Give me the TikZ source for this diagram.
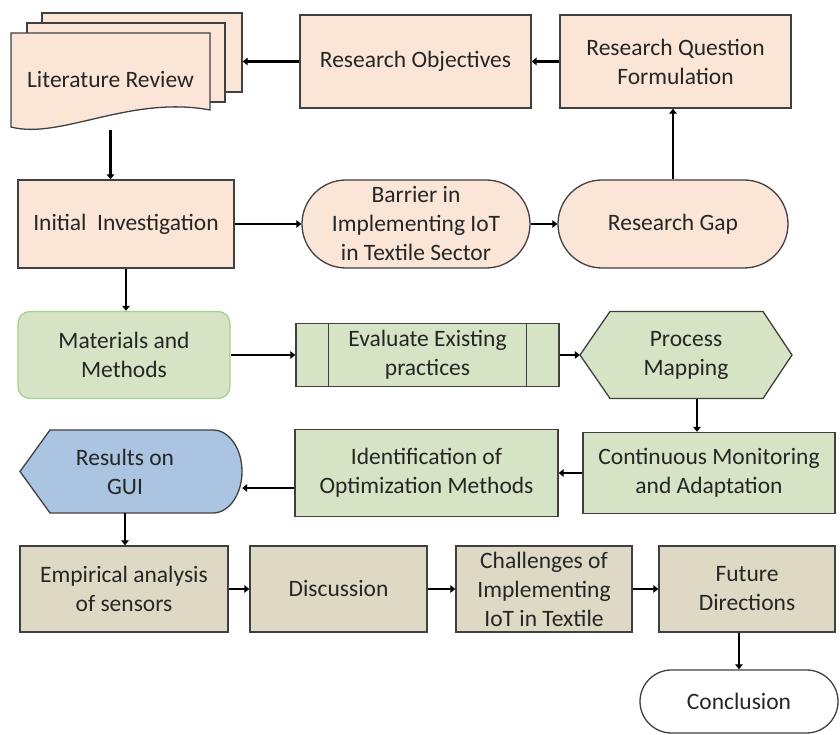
\documentclass[tikz,border=0pt]{standalone}
\usepackage{fontspec}
\setmainfont{Carlito}
\usetikzlibrary{arrows.meta}
\definecolor{peach}{HTML}{FBE5D6}
\definecolor{sage}{HTML}{D6E3C4}
\definecolor{sky}{HTML}{AAC4E1}
\definecolor{tan}{HTML}{DDD9C4}
\definecolor{edge}{HTML}{404040}
\definecolor{leaf}{HTML}{A9D18E}
\definecolor{ink}{HTML}{262626}
\tikzset{
  box/.style={draw=edge, line width=1.3pt, align=center, text=ink,
    font=\fontsize{23.5}{29}\selectfont},
  pbox/.style={box, fill=peach},
  gbox/.style={box, fill=sage},
  tbox/.style={box, fill=tan},
  pill/.style={box, rounded corners=#1},
  label/.style={align=center, text=ink, font=\fontsize{23.5}{29}\selectfont},
  link/.style={line width=2.4pt, -{Triangle[length=5pt,width=7.5pt]}},
}
\begin{document}
\begin{tikzpicture}[x=1pt,y=1pt]
\useasboundingbox (0,0) rectangle (840,735);
\node[pbox, minimum width=200, minimum height=79] (litback) at (142,682.5) {};
\node[pbox, minimum width=198, minimum height=79] (litmid) at (126,672.5) {};
\filldraw[fill=peach, draw=edge, line width=1.3pt] (11,608) -- (11,702) -- (210,702) -- (210,625)
  .. controls (130,640) and (60,595) .. (11,608) -- cycle;
\node[label, minimum width=199, minimum height=100] (lit) at (110.5,655) {Literature Review};
\node[pbox, minimum width=231, minimum height=93] (obj) at (415.5,673.5) {Research Objectives};
\node[pbox, minimum width=231, minimum height=93] (rqf) at (675.5,673.5) {Research Question\\Formulation};

\node[pbox, minimum width=216, minimum height=88] (init) at (126,511) {Initial~ Investigation};
\node[pbox, pill=44, minimum width=228, minimum height=88] (barrier) at (416,511) {Barrier in\\Implementing IoT\\in Textile Sector};
\node[pbox, pill=44, minimum width=230, minimum height=88] (gap) at (673,511) {Research Gap};

\node[gbox, draw=leaf, rounded corners=12, minimum width=212, minimum height=87] (mat) at (124,380) {Materials and\\Methods};
\node[gbox, minimum width=263, minimum height=63] (eval) at (427.5,380) {Evaluate Existing\\practices};
\draw[edge, line width=1.3pt] ([xshift=33pt]eval.north west) -- ([xshift=33pt]eval.south west);
\draw[edge, line width=1.3pt] ([xshift=-33pt]eval.north east) -- ([xshift=-33pt]eval.south east);
\filldraw[fill=sage, draw=edge, line width=1.3pt] (580,380) -- (610,423.5) -- (763,423.5) -- (792,380)
  -- (763,336.5) -- (610,336.5) -- cycle;
\node[label, minimum width=212, minimum height=87] (pmap) at (686,380) {Process\\Mapping};

\node[gbox, minimum width=252, minimum height=81] (cont) at (709,262) {Continuous Monitoring\\and Adaptation};
\node[gbox, minimum width=263, minimum height=87] (ident) at (426.5,262) {Identification of\\Optimization Methods};
\filldraw[fill=sky, draw=edge, line width=1.3pt] (20,263.5) -- (50,305) -- (213,305)
  arc[start angle=90, end angle=-90, x radius=29, y radius=41.5] -- (50,222) -- cycle;
\node[label, minimum width=234, minimum height=83] (gui) at (125,263.5) {Results on\\GUI};

\node[tbox, minimum width=208, minimum height=86] (emp) at (124,146) {Empirical analysis\\of sensors};
\node[tbox, minimum width=177, minimum height=86] (disc) at (338.5,146) {Discussion};
\node[tbox, minimum width=176, minimum height=86] (chall) at (544,146) {Challenges of\\Implementing\\IoT in Textile};
\node[tbox, minimum width=176, minimum height=86] (future) at (747,146) {Future\\Directions};
\node[box, fill=white, pill=31.5, minimum width=198, minimum height=63] (concl) at (739,33.5) {Conclusion};

\draw[link] (obj.west) -- (obj.west -| litback.east);
\draw[link] (rqf.west) -- (obj.east);
\draw[link] (gap.north) -- (gap.north |- rqf.south);
\draw[link] (lit.south) -- (lit.south |- init.north);
\draw[link] (init.east) -- (barrier.west);
\draw[link] (barrier.east) -- (gap.west);
\draw[link] (init.south) -- (init.south |- mat.north);
\draw[link] (mat.east) -- (eval.west);
\draw[link] (eval.east) -- (pmap.west);
\draw[link] ([xshift=11pt]pmap.south) -- ([xshift=11pt]pmap.south |- cont.north);
\draw[link] (cont.west) -- (ident.east);
\draw[link] ([yshift=-15pt]ident.west) -- ([yshift=-15pt]ident.west -| gui.east);
\draw[link] (gui.south) -- (gui.south |- emp.north);
\draw[link] (emp.east) -- (disc.west);
\draw[link] (disc.east) -- (chall.west);
\draw[link] (chall.east) -- (future.west);
\draw[link] (concl.north |- future.south) -- (concl.north);
\end{tikzpicture}
\end{document}
